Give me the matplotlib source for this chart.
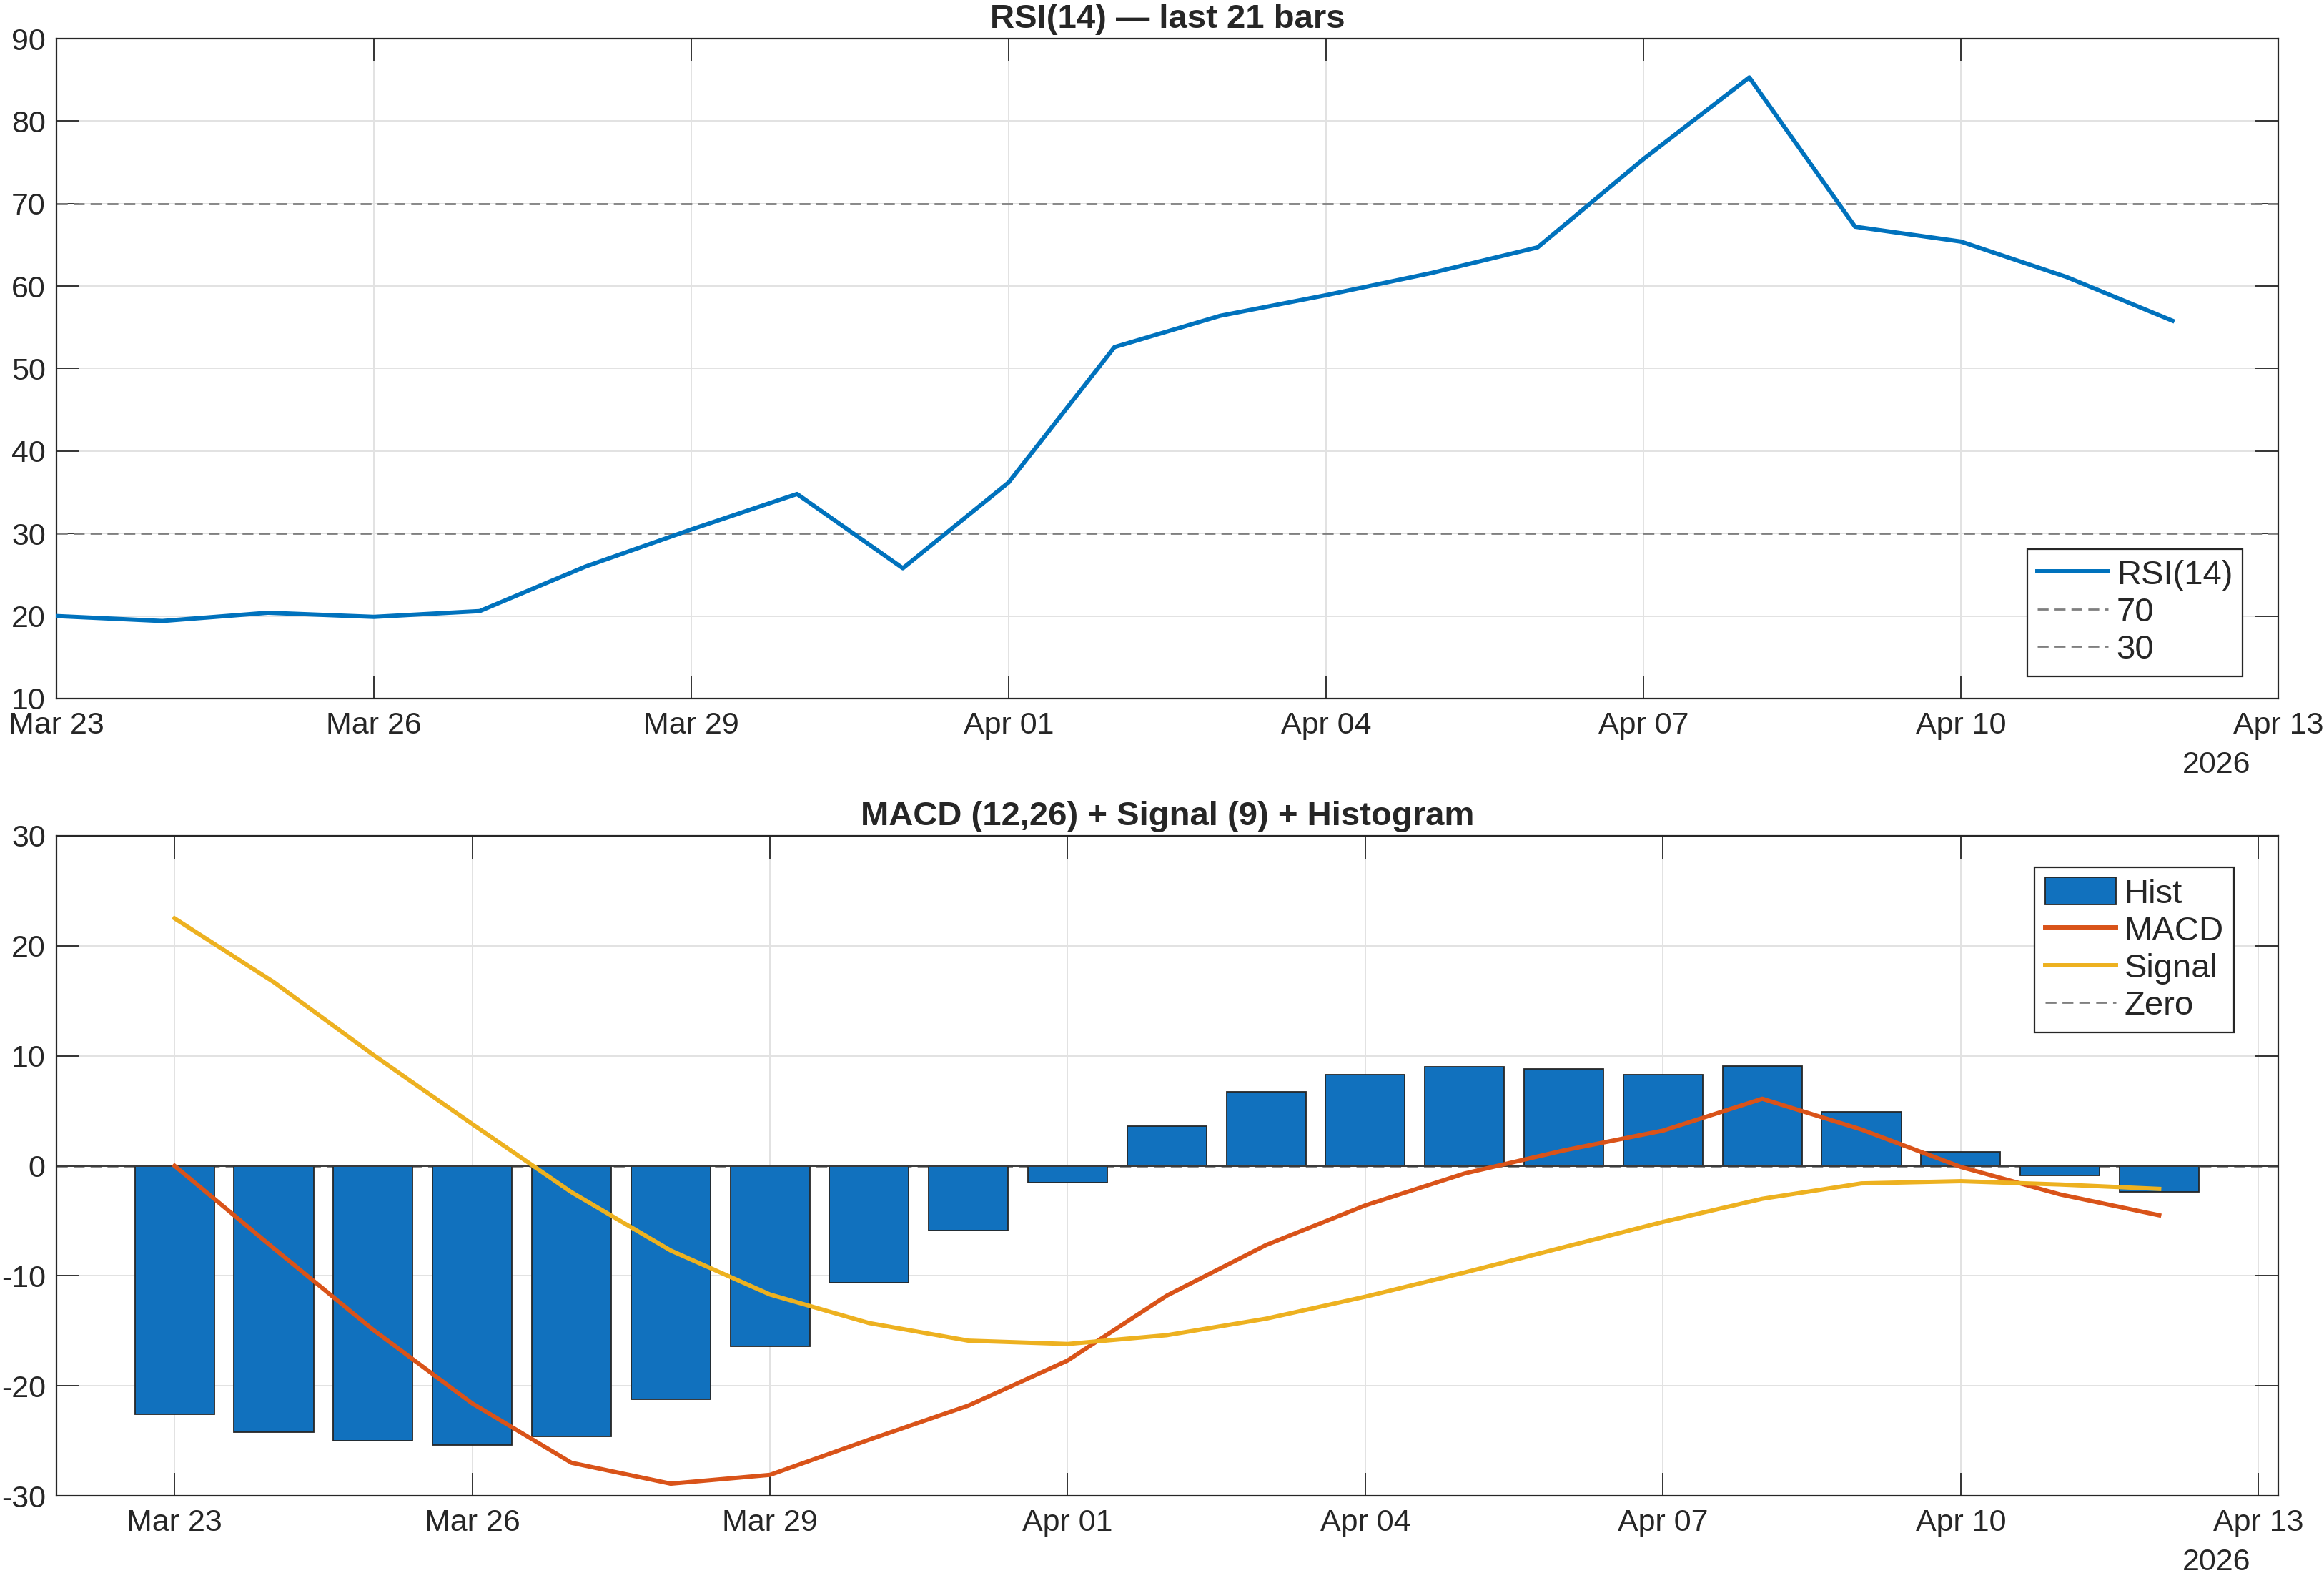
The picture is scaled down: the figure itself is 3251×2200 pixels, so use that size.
import numpy as np
import matplotlib
matplotlib.use("Agg")
import matplotlib.pyplot as plt
import matplotlib.dates as mdates

plt.rcParams['font.family'] = ['Liberation Sans', 'DejaVu Sans']
plt.rcParams['axes.unicode_minus'] = False

# ---------------- data ----------------
dates = ["2026-03-23", "2026-03-24", "2026-03-25", "2026-03-26", "2026-03-27",
         "2026-03-28", "2026-03-29", "2026-03-30", "2026-03-31", "2026-04-01",
         "2026-04-02", "2026-04-03", "2026-04-04", "2026-04-05", "2026-04-06",
         "2026-04-07", "2026-04-08", "2026-04-09", "2026-04-10", "2026-04-11",
         "2026-04-12"]
rsi = [20.0, 19.4, 20.4, 19.9, 20.6, 26.0, 30.5, 34.8, 25.8, 36.2,
       52.6, 56.4, 58.9, 61.6, 64.7, 75.4, 85.3, 67.2, 65.4, 61.1, 55.8]
hist = [-22.6, -24.2, -25.0, -25.4, -24.6, -21.2, -16.4, -10.6, -5.9, -1.55,
        3.6, 6.7, 8.3, 9.0, 8.8, 8.3, 9.1, 4.9, 1.3, -0.9, -2.4]
macd = [0.0, -7.5, -14.9, -21.6, -27.0, -28.9, -28.1, -24.9, -21.8, -17.7,
        -11.8, -7.2, -3.6, -0.7, 1.4, 3.2, 6.1, 3.3, -0.1, -2.6, -4.5]
signal = [22.5, 16.7, 10.1, 3.8, -2.4, -7.7, -11.7, -14.3, -15.9, -16.2,
          -15.4, -13.9, -11.9, -9.7, -7.4, -5.1, -3.0, -1.6, -1.4, -1.7, -2.1]
tick_dates = ["2026-03-23", "2026-03-26", "2026-03-29", "2026-04-01",
              "2026-04-04", "2026-04-07", "2026-04-10", "2026-04-13"]
rsi_levels = [70, 30]

# ---------------- style ----------------
BLUE = "#0072BD"
BAR_BLUE = "#1171be"
ORANGE = "#D95319"
YELLOW = "#EDB120"
TXT = "#262626"
GRID = "#e2e2e2"
REF = "#7f7f7f"

x = mdates.datestr2num(dates)
xt = mdates.datestr2num(tick_dates)

fig = plt.figure(figsize=(32.51, 22.0), dpi=100)
ax1 = fig.add_axes([79/3251, 1 - 977/2200, 3108/3251, 923/2200])
ax2 = fig.add_axes([79/3251, 1 - 2092/2200, 3108/3251, 923/2200])

TICK_FS = 31
TITLE_FS = 34
LEG_FS = 34

LEG_KW = dict(fontsize=LEG_FS, frameon=True, fancybox=False, framealpha=1,
              edgecolor=TXT, handlelength=2.1, handleheight=0.85,
              handletextpad=0.25, labelspacing=0.15, borderpad=0.3,
              borderaxespad=0)


def style_axes(ax):
    for s in ax.spines.values():
        s.set_color(TXT)
        s.set_linewidth(1.6)
    ax.tick_params(direction='in', top=True, right=True, length=23, width=1.3,
                   colors=TXT, labelsize=TICK_FS, pad=13)
    ax.tick_params(axis='y', pad=11)
    ax.grid(True, color=GRID, linewidth=1.4)
    ax.set_axisbelow(True)
    ax.set_xticks(xt)
    ax.xaxis.set_major_formatter(mdates.DateFormatter('%b %d'))
    for lab in ax.get_xticklabels() + ax.get_yticklabels():
        lab.set_color(TXT)
    ax.text(0.9875, -0.079, "2026", transform=ax.transAxes, ha='right', va='top',
            fontsize=TICK_FS, color=TXT)


# ---------------- RSI ----------------
l1, = ax1.plot(x, rsi, color=BLUE, linewidth=4.3, label='RSI(14)', zorder=3)
for lvl in rsi_levels:
    ax1.axhline(lvl, color=REF, linewidth=2.0, dashes=(5.5, 3), label=str(lvl), zorder=2)
ax1.set_xlim(xt[0], xt[-1])
ax1.set_ylim(10, 90)
ax1.set_yticks(np.arange(10, 91, 10))
style_axes(ax1)
ax1.set_title("RSI(14) \u2014 last 21 bars", fontsize=TITLE_FS, fontweight='bold',
              color=TXT, pad=11)
leg1 = ax1.legend(loc='lower right', bbox_to_anchor=(0.984, 0.034), **LEG_KW)
leg1.get_frame().set_linewidth(1.6)
for t in leg1.get_texts():
    t.set_color(TXT)

# ---------------- MACD ----------------
l4 = ax2.axhline(0, color=REF, linewidth=2.0, dashes=(5.5, 3), label='Zero', zorder=1.5)
b = ax2.bar(x, hist, width=0.8, color=BAR_BLUE, edgecolor=TXT, linewidth=1.3,
            label='Hist', zorder=2)
ax2.axhline(0, color="#3a3a3a", linewidth=1.4, zorder=2.2)  # bar baseline
l2, = ax2.plot(x, macd, color=ORANGE, linewidth=4.3, label='MACD', zorder=3)
l3, = ax2.plot(x, signal, color=YELLOW, linewidth=4.3, label='Signal', zorder=3)
ax2.set_xlim(xt[0] - 1.19, xt[-1] + 0.2)
ax2.set_ylim(-30, 30)
ax2.set_yticks(np.arange(-30, 31, 10))
style_axes(ax2)
ax2.set_title("MACD (12,26) + Signal (9) + Histogram", fontsize=TITLE_FS,
              fontweight='bold', color=TXT, pad=11)
leg2 = ax2.legend([b, l2, l3, l4], ['Hist', 'MACD', 'Signal', 'Zero'],
                  loc='upper right', bbox_to_anchor=(0.980, 0.952), **LEG_KW)
leg2.get_frame().set_linewidth(1.6)
for t in leg2.get_texts():
    t.set_color(TXT)

fig.savefig("out.png", dpi=100, facecolor='white')
